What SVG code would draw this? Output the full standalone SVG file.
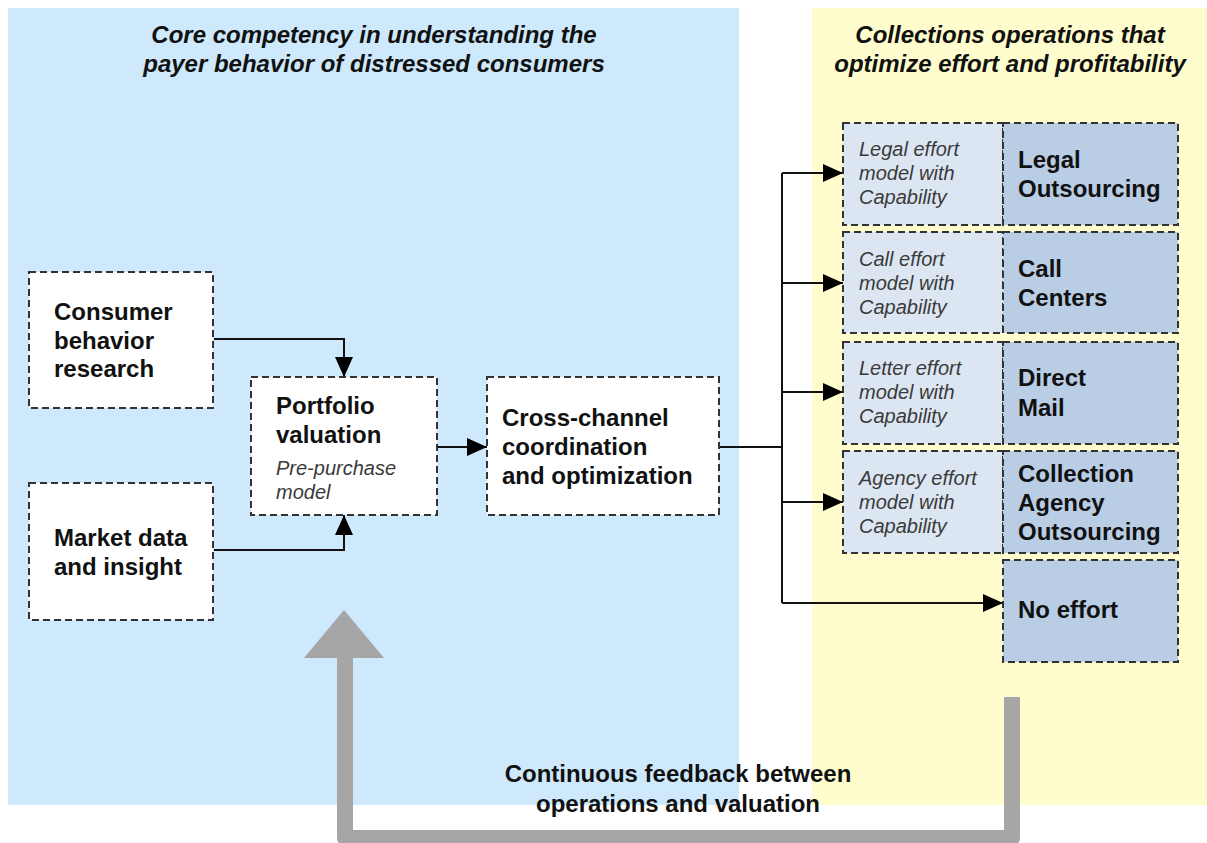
<svg xmlns="http://www.w3.org/2000/svg" width="1207" height="843" viewBox="0 0 1207 843">
<defs>
<style>
.b{font-family:"Liberation Sans",Arial,sans-serif;font-weight:bold;font-size:24px;fill:#111}
.t{font-family:"Liberation Sans",Arial,sans-serif;font-weight:bold;font-style:italic;font-size:24px;fill:#111}
.i{font-family:"Liberation Sans",Arial,sans-serif;font-style:italic;font-size:20px;fill:#3a3a3a}
.box{fill:#fff;stroke:#333;stroke-width:2;stroke-dasharray:7 4}
.lt{fill:#dce6f2;stroke:#333;stroke-width:2;stroke-dasharray:7 4}
.dk{fill:#b9cde5;stroke:#333;stroke-width:2;stroke-dasharray:7 4}
.c{fill:none;stroke:#111;stroke-width:2}
</style>
<marker id="ah" markerUnits="userSpaceOnUse" markerWidth="20" markerHeight="18" refX="20" refY="9" orient="auto">
<path d="M0,0 L20,9 L0,18 z" fill="#000"/>
</marker>
</defs>
<rect width="1207" height="843" fill="#fff"/>
<g id="panels">
<rect x="8" y="8" width="731" height="797" fill="#cde9fb"/>
<rect x="812" y="8" width="395" height="797" fill="#fffdcd"/>
<text class="t" x="374" y="43" text-anchor="middle">Core competency in understanding the</text>
<text class="t" x="374" y="72" text-anchor="middle">payer behavior of distressed consumers</text>
<text class="t" x="1010" y="43" text-anchor="middle">Collections operations that</text>
<text class="t" x="1010" y="72" text-anchor="middle">optimize effort and profitability</text>
</g>
<g id="feedback">
<path d="M345,654 V838 H1012 V697" fill="none" stroke="#a6a6a6" stroke-width="16" stroke-linejoin="round"/>
<path d="M344,610 L384,658 L304,658 z" fill="#a6a6a6"/>
<text class="b" x="678" y="782" text-anchor="middle">Continuous feedback between</text>
<text class="b" x="678" y="812" text-anchor="middle">operations and valuation</text>
</g>
<g id="connectors">
<path class="c" d="M214,339 H344 V377" marker-end="url(#ah)"/>
<path class="c" d="M214,550 H344 V515" marker-end="url(#ah)"/>
<path class="c" d="M437,447 H487" marker-end="url(#ah)"/>
<path class="c" d="M719,447 H782"/>
<path class="c" d="M782,173 V603"/>
<path class="c" d="M782,173 H843" marker-end="url(#ah)"/>
<path class="c" d="M782,283 H843" marker-end="url(#ah)"/>
<path class="c" d="M782,392 H843" marker-end="url(#ah)"/>
<path class="c" d="M782,502 H843" marker-end="url(#ah)"/>
<path class="c" d="M782,603 H1003" marker-end="url(#ah)"/>
</g>
<g id="consumer">
<rect class="box" x="29" y="272" width="184" height="136"/>
<text class="b" x="54" y="320">Consumer</text>
<text class="b" x="54" y="349">behavior</text>
<text class="b" x="54" y="377">research</text>
</g>
<g id="market">
<rect class="box" x="29" y="483" width="184" height="137"/>
<text class="b" x="54" y="546">Market data</text>
<text class="b" x="54" y="575">and insight</text>
</g>
<g id="portfolio">
<rect class="box" x="251" y="377" width="186" height="138"/>
<text class="b" x="276" y="414">Portfolio</text>
<text class="b" x="276" y="443">valuation</text>
<text class="i" x="276" y="475">Pre-purchase</text>
<text class="i" x="276" y="499">model</text>
</g>
<g id="crosschannel">
<rect class="box" x="487" y="377" width="232" height="138"/>
<text class="b" x="502" y="426">Cross-channel</text>
<text class="b" x="502" y="455">coordination</text>
<text class="b" x="502" y="484">and optimization</text>
</g>
<g id="legal">
<rect class="lt" x="843" y="123" width="160" height="102"/>
<rect class="dk" x="1003" y="123" width="175" height="102"/>
<text class="i" x="859" y="156">Legal effort</text>
<text class="i" x="859" y="180">model with</text>
<text class="i" x="859" y="204">Capability</text>
<text class="b" x="1018" y="168">Legal</text>
<text class="b" x="1018" y="197">Outsourcing</text>
</g>
<g id="call">
<rect class="lt" x="843" y="232" width="160" height="101"/>
<rect class="dk" x="1003" y="232" width="175" height="101"/>
<text class="i" x="859" y="266">Call effort</text>
<text class="i" x="859" y="290">model with</text>
<text class="i" x="859" y="314">Capability</text>
<text class="b" x="1018" y="277">Call</text>
<text class="b" x="1018" y="306">Centers</text>
</g>
<g id="letter">
<rect class="lt" x="843" y="342" width="160" height="102"/>
<rect class="dk" x="1003" y="342" width="175" height="102"/>
<text class="i" x="859" y="375">Letter effort</text>
<text class="i" x="859" y="399">model with</text>
<text class="i" x="859" y="423">Capability</text>
<text class="b" x="1018" y="386">Direct</text>
<text class="b" x="1018" y="416">Mail</text>
</g>
<g id="agency">
<rect class="lt" x="843" y="451" width="160" height="102"/>
<rect class="dk" x="1003" y="451" width="175" height="102"/>
<text class="i" x="859" y="485">Agency effort</text>
<text class="i" x="859" y="509">model with</text>
<text class="i" x="859" y="533">Capability</text>
<text class="b" x="1018" y="482">Collection</text>
<text class="b" x="1018" y="511">Agency</text>
<text class="b" x="1018" y="540">Outsourcing</text>
</g>
<g id="noeffort">
<rect class="dk" x="1003" y="560" width="175" height="102"/>
<text class="b" x="1018" y="618">No effort</text>
</g>
</svg>
